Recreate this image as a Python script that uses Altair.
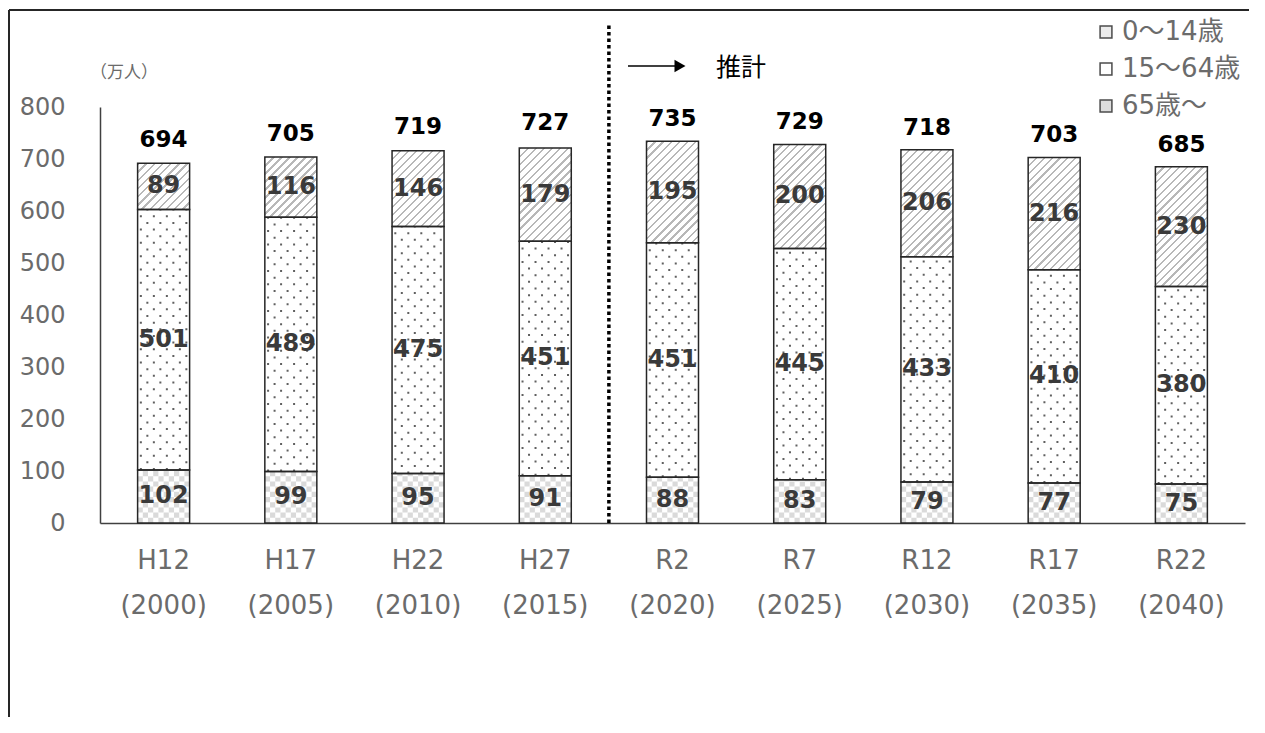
import math
import altair as alt
import pandas as pd

# ---------------- data ----------------
categories = ["H12\n(2000)", "H17\n(2005)", "H22\n(2010)", "H27\n(2015)",
              "R2\n(2020)", "R7\n(2025)", "R12\n(2030)", "R17\n(2035)", "R22\n(2040)"]
groups = ["0～14歳", "15～64歳", "65歳～"]
age_0_14 = [102, 99, 95, 91, 88, 83, 79, 77, 75]
age_15_64 = [501, 489, 475, 451, 451, 445, 433, 410, 380]
age_65_over = [89, 116, 146, 179, 195, 200, 206, 216, 230]
totals = [694, 705, 719, 727, 735, 729, 718, 703, 685]
y_ticks = [0, 100, 200, 300, 400, 500, 600, 700, 800]
unit_label = ["（万人）"]
forecast_label = ["推計"]
forecast_start = "R2\n(2020)"

# ---------------- layout / style ----------------
W, H = 1145, 416
YMAX = 800
PX = H / YMAX
BAR_W = 52
STEP = W / len(categories)
PAD_R = 4
FONT = "DejaVu Sans, Noto Sans CJK JP"
CJK = "Noto Sans CJK JP"
NUM_BOLD = "DejaVu Sans"
GRAY = "#6b6b6b"

rows = []
for i, c in enumerate(categories):
    base = 0
    for g, vals in zip(groups, [age_0_14, age_15_64, age_65_over]):
        v = vals[i]
        rows.append({"cat": c, "group": g, "value": v, "y0": base, "y1": base + v,
                     "mid": base + v / 2})
        base += v
df = pd.DataFrame(rows)
tot_df = pd.DataFrame({"cat": categories, "total": totals})

x_axis = alt.Axis(title=None, labelAngle=0, ticks=False, domainColor="#404040", domainWidth=1.5,
                  labelExpr="split(datum.label, '\\n')", labelLineHeight=45,
                  labelFont=FONT, labelFontSize=26, labelColor=GRAY, labelPadding=24,
                  labelBaseline="top")
y_axis = alt.Axis(title=None, values=y_ticks, grid=False, ticks=False, domainColor="#404040",
                  domainWidth=1.5, labelFont=FONT, labelFontSize=24, labelColor=GRAY,
                  labelPadding=35)
x_scale = alt.Scale(domain=categories, paddingInner=0, paddingOuter=0)
y_scale = alt.Scale(domain=[0, YMAX], nice=False)


def X():
    return alt.X("cat:N", sort=categories, scale=x_scale, axis=x_axis)


def Y(field="y0"):
    return alt.Y(f"{field}:Q", scale=y_scale, axis=y_axis)


base = alt.Chart(df)

# legend carrier (hidden behind the bars)
legend_layer = base.mark_square(size=20, stroke="black", strokeWidth=1.5).encode(
    x=X(), y=Y("mid"),
    color=alt.Color("group:N", sort=groups,
                    scale=alt.Scale(domain=groups, range=["#e3e3e3", "#ffffff", "#cfcfcf"]),
                    legend=alt.Legend(title=None, orient="none", legendX=993, legendY=-88,
                                      symbolType="square", symbolSize=140,
                                      symbolStrokeColor="black", symbolStrokeWidth=1.5,
                                      labelFont=FONT, labelFontSize=26, labelColor=GRAY,
                                      rowPadding=11, labelOffset=3, padding=0))
)

white_bars = base.mark_bar(size=BAR_W, color="white").encode(x=X(), y=Y(), y2="y1")

layers = [legend_layer, white_bars]

# checker pattern for 0-14
CELL = BAR_W / 10
for j in range(10):
    off = -BAR_W / 2 + CELL / 2 + CELL * j
    layers.append(
        base.transform_filter(alt.FieldEqualPredicate(field="group", equal=groups[0]))
        .mark_rule(xOffset=off, strokeWidth=CELL, color="#dadada",
                   strokeDash=[CELL, CELL], strokeDashOffset=(CELL if j % 2 else 0))
        .encode(x=X(), y=Y(), y2="y1")
    )

# dotted pattern for 15-64
DOT_DX = BAR_W / 8
for j in range(8):
    off = -BAR_W / 2 + DOT_DX / 2 + DOT_DX * j
    layers.append(
        base.transform_filter(alt.FieldEqualPredicate(field="group", equal=groups[1]))
        .mark_rule(xOffset=off, strokeWidth=2, color="#606060",
                   strokeDash=[2, 11.3], strokeDashOffset=(6.65 if j % 2 else 0))
        .encode(x=X(), y=Y(), y2="y1")
    )

# hatched pattern for 65+
HATCH_PERIOD = 5.6
HATCH_FRAC = 0.28
HATCH_C = "#b8b8b8"


def hatch_gradient(hpx):
    w = BAR_W
    k = (w + hpx) / (w * w + hpx * hpx)
    n = max(1, round((w + hpx) / math.sqrt(2) / HATCH_PERIOD))
    stops = []
    for i in range(n):
        a, b, c = i / n, (i + HATCH_FRAC) / n, (i + 1) / n
        stops += [{"offset": a, "color": HATCH_C}, {"offset": b, "color": HATCH_C},
                  {"offset": b, "color": "#ffffff"}, {"offset": c, "color": "#ffffff"}]
    return {"gradient": "linear", "x1": 0, "y1": 0, "x2": w * k, "y2": hpx * k, "stops": stops}


for c, v in zip(categories, age_65_over):
    layers.append(
        base.transform_filter(alt.FieldEqualPredicate(field="group", equal=groups[2]))
        .transform_filter(alt.FieldEqualPredicate(field="cat", equal=c))
        .mark_bar(size=BAR_W, fill=hatch_gradient(v * PX))
        .encode(x=X(), y=Y(), y2="y1")
    )

outline = base.mark_bar(size=BAR_W, fillOpacity=0, stroke="#262626", strokeWidth=1.5).encode(
    x=X(), y=Y(), y2="y1")

seg_labels = base.mark_text(font=NUM_BOLD, fontSize=24, fontWeight="bold", color="#3a3a3a",
                            baseline="middle").encode(
    x=X(), y=Y("mid"), text="value:Q")

tot_labels = alt.Chart(tot_df).mark_text(font=NUM_BOLD, fontSize=23, fontWeight="bold",
                                         color="black", baseline="alphabetic", dy=-15).encode(
    x=X(), y=Y("total"), text="total:Q")

sep_df = pd.DataFrame({"cat": [forecast_start], "v": [0]})
separator = alt.Chart(sep_df).mark_rule(color="black", strokeWidth=3.5, strokeDash=[3.5, 3],
                                        xOffset=-STEP / 2).encode(
    x=X(), y=Y("v"), y2=alt.value(-82))

lbl_df = pd.DataFrame({"t": forecast_label})
arrow_line = alt.Chart(lbl_df).mark_rule(color="black", strokeWidth=1.5).encode(
    x=alt.value(528), x2=alt.value(576), y=alt.value(-41))
arrow_head = alt.Chart(lbl_df).mark_point(shape="triangle-right", filled=True, color="black",
                                          size=160, opacity=1).encode(
    x=alt.value(580), y=alt.value(-41))
forecast_text = alt.Chart(lbl_df).mark_text(font=CJK, fontSize=25, color="black",
                                            align="left", baseline="middle").encode(
    x=alt.value(616), y=alt.value(-39), text="t:N")

unit_text = alt.Chart(pd.DataFrame({"t": unit_label})).mark_text(
    font=CJK, fontSize=17, color=GRAY, align="left", baseline="middle").encode(
    x=alt.value(-10), y=alt.value(-34), text="t:N")

frame_top = alt.Chart(lbl_df).mark_rule(color="#262626", strokeWidth=2).encode(
    x=alt.value(-91), x2=alt.value(W + PAD_R), y=alt.value(-97))
frame_left = alt.Chart(lbl_df).mark_rule(color="#262626", strokeWidth=2).encode(
    x=alt.value(-91), y=alt.value(-97), y2=alt.value(H + 194))

layers += [outline, seg_labels, tot_labels, separator, arrow_line, arrow_head,
           forecast_text, unit_text, frame_top, frame_left]

chart = alt.layer(*layers).properties(
    width=W, height=H,
    autosize=alt.AutoSizeParams(type="none"),
    padding={"left": 92, "top": 99, "right": PAD_R, "bottom": 194},
    background="white",
).configure_view(stroke=None)

chart.save("out.html", embed_options={"renderer": "svg", "actions": False})
